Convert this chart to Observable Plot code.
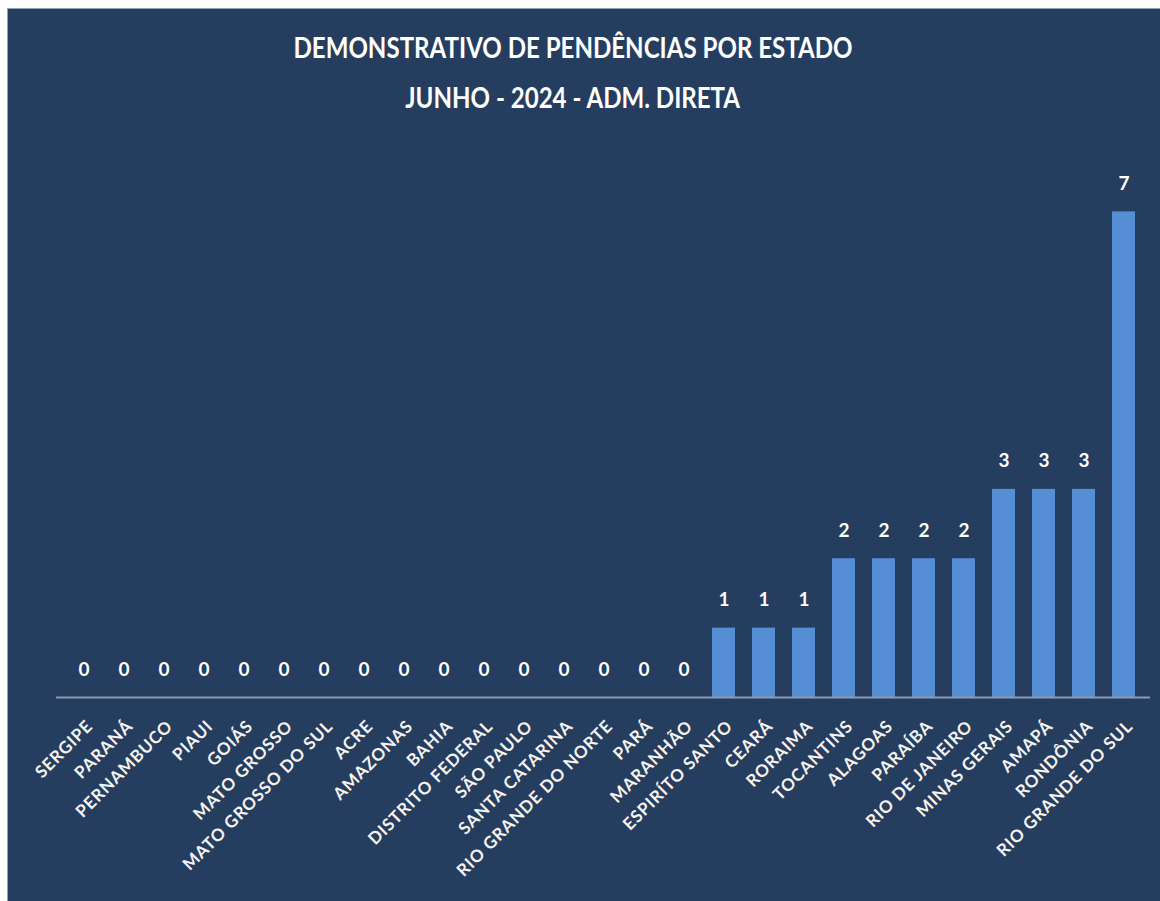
<!DOCTYPE html>
<html><head><meta charset="utf-8">
<script src="https://cdn.jsdelivr.net/npm/d3@7"></script>
<script src="https://cdn.jsdelivr.net/npm/@observablehq/plot@0.6"></script>
<style>
html,body{margin:0;padding:0;background:#ffffff;width:1160px;height:901px;overflow:hidden;}
#panel{position:absolute;left:7px;top:8px;width:1153px;height:893px;background:#253D5E;border-top:1px solid #8FA0B5;border-left:1px solid #8FA0B5;box-sizing:border-box;font-family:Lato,sans-serif;}
#title{height:120px;padding-top:13px;box-sizing:border-box;text-align:center;color:#ffffff;font-weight:bold;font-size:28px;line-height:50px;padding-right:22px;}
#title span{display:inline-block;transform:scaleX(0.86);transform-origin:center;white-space:nowrap;}
#chart svg{display:block;}
#chart g[aria-label="x-axis tick label"]{font-size:17px;font-weight:bold;letter-spacing:0.8px;fill:#F4F4F4;}
</style></head>
<body>
<div id="panel">
  <div id="title"><span>DEMONSTRATIVO DE PENDÊNCIAS POR ESTADO</span><br><span>JUNHO - 2024 - ADM. DIRETA</span></div>
  <div id="chart"></div>
</div>
<script>
const states = ["SERGIPE","PARANÁ","PERNAMBUCO","PIAUI","GOIÁS","MATO GROSSO","MATO GROSSO DO SUL","ACRE","AMAZONAS","BAHIA","DISTRITO FEDERAL","SÃO PAULO","SANTA CATARINA","RIO GRANDE DO NORTE","PARÁ","MARANHÃO","ESPIRÍTO SANTO","CEARÁ","RORAIMA","TOCANTINS","ALAGOAS","PARAÍBA","RIO DE JANEIRO","MINAS GERAIS","AMAPÁ","RONDÔNIA","RIO GRANDE DO SUL"];
const values = [0,0,0,0,0,0,0,0,0,0,0,0,0,0,0,0,1,1,1,2,2,2,2,3,3,3,7];
const yDomain = [0, 8];

const data = states.map((s, i) => ({state: s, value: values[i]}));

const chart = Plot.plot({
  width: 1152,
  height: 772,
  marginLeft: 48,
  marginRight: 10,
  marginTop: 13,
  marginBottom: 204,
  style: {background: "transparent", color: "#ffffff", fontFamily: "Lato, sans-serif"},
  x: {domain: states, paddingInner: 0.43, paddingOuter: 0.215, label: null},
  y: {domain: yDomain, axis: null},
  marks: [
    Plot.barY(data, {x: "state", y: "value", fill: "#558ED5"}),
    Plot.ruleY([0], {stroke: "#8C9BB2", strokeWidth: 2}),
    Plot.text(data, {x: "state", y: "value", text: d => String(d.value), dy: -28, fill: "#ffffff", fontSize: 19, fontWeight: "bold"}),
    Plot.axisX({tickRotate: -45, tickSize: 0, tickPadding: 26, dx: 6, fontSize: 17, fontWeight: "bold", fill: "#ffffff", label: null})
  ]
});
document.getElementById("chart").appendChild(chart);
</script>
</body></html>
